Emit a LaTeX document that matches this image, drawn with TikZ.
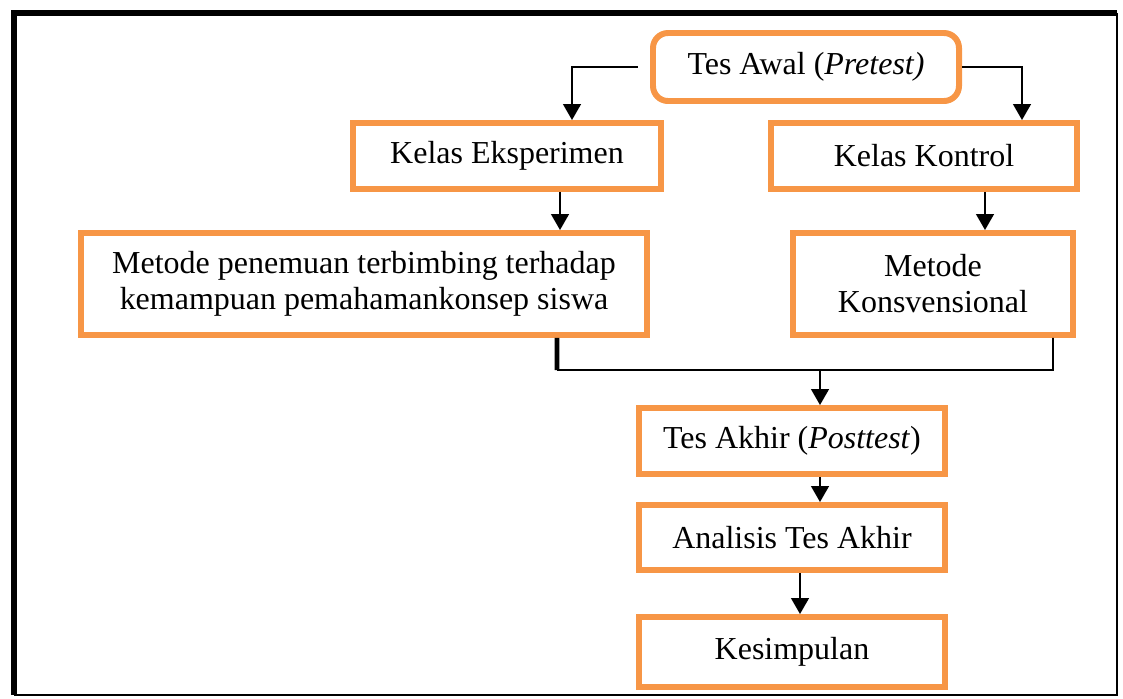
\documentclass[tikz,border=0pt]{standalone}
\usepackage{fontspec}
\setmainfont{Liberation Serif}
\usepackage{tikz}
\usetikzlibrary{arrows.meta, positioning}
\usepackage{xcolor}
\definecolor{boxorange}{HTML}{F79646}

\tikzset{
  stepbox/.style={draw=boxorange, line width=3.4pt, rectangle, fill=white,
                  align=center, font=\fontsize{18.2}{20.5}\selectfont},
  arr/.style={line width=1.2pt, -{Triangle[width=10pt, length=9pt]}},
  link/.style={line width=1.1pt}
}

\begin{document}
\begin{tikzpicture}
  \useasboundingbox (0,0) rectangle (22.46,-13.96);

  % outer frame (thick on top and left)
  \draw[line width=1.3pt] (0.28,-13.9) -- (22.34,-13.9) -- (22.34,-0.26);
  \draw[line width=2.9pt] (0.28,-13.9) -- (0.28,-0.26) -- (22.34,-0.26);

  % pretest
  \node[stepbox, rounded corners=0.3cm, minimum width=6.12cm, minimum height=1.36cm] (awal) at (16.12,-1.34) {Tes Awal (\textit{Pretest)}};

  % the two classes
  \node[stepbox, minimum width=6.16cm, minimum height=1.32cm] (eksp) at (10.14,-3.12) {Kelas Eksperimen};
  \node[stepbox, minimum width=6.12cm, minimum height=1.32cm] (kontrol) at (18.48,-3.12) {Kelas Kontrol};

  % methods
  \node[stepbox, minimum width=11.32cm, minimum height=2.04cm] (metode) at (7.28,-5.68) {Metode penemuan terbimbing terhadap\\kemampuan pemahamankonsep siswa};
  \node[stepbox, minimum width=5.6cm, minimum height=2.04cm] (konv) at (18.66,-5.68) {Metode\\Konsvensional};

  % posttest and after
  \node[stepbox, minimum width=6.12cm, minimum height=1.32cm] (akhir) at (15.84,-8.82) {Tes Akhir (\textit{Posttest})};
  \node[stepbox, minimum width=6.12cm, minimum height=1.30cm] (analisis) at (15.84,-10.75) {Analisis Tes Akhir};
  \node[stepbox, minimum width=6.12cm, minimum height=1.40cm] (simpulan) at (15.84,-13.04) {Kesimpulan};

  % joining points below the methods
  \coordinate (mergeL) at (11.14,-7.4);
  \coordinate (mergeR) at (21.06,-7.4);
  \coordinate (join) at (16.4,-7.4);

  % arrows from pretest
  \draw[arr] ([xshift=-0.25cm]awal.west) -| ([xshift=1.3cm]eksp.north);
  \draw[arr] (awal.east) -| ([xshift=1.96cm]kontrol.north);

  % classes to methods
  \draw[arr] ([xshift=1.06cm]eksp.south) -- ([xshift=1.06cm]eksp.south |- metode.north);
  \draw[arr] ([xshift=1.22cm]kontrol.south) -- ([xshift=1.22cm]kontrol.south |- konv.north);

  % methods to posttest
  \draw[line width=2.8pt] ([xshift=3.86cm]metode.south) -- (mergeL);
  \draw[link] (mergeL) -- (mergeR) -- ([xshift=2.4cm]konv.south);
  \draw[arr] (join) -- (join |- akhir.north);

  % down to the end
  \draw[arr] ([xshift=0.56cm]akhir.south) -- ([xshift=0.56cm]akhir.south |- analisis.north);
  \draw[arr] ([xshift=0.16cm]analisis.south) -- ([xshift=0.16cm]analisis.south |- simpulan.north);
\end{tikzpicture}
\end{document}
